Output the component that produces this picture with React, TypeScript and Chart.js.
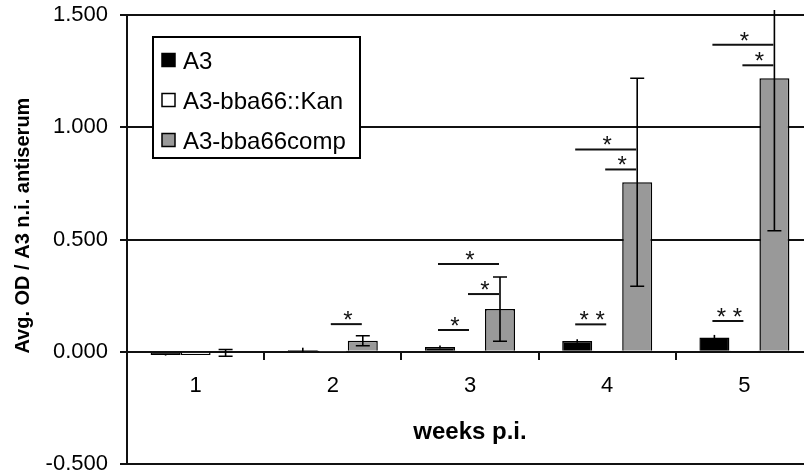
import React, { useEffect, useRef } from 'react';
import { Chart, registerables } from 'chart.js';

Chart.register(...registerables);

// ---- data ----
const weeks = ['1', '2', '3', '4', '5'];
const seriesNames = ['A3', 'A3-bba66::Kan', 'A3-bba66comp'];
const a3Values = [-0.014, 0.008, 0.021, 0.048, 0.063];
const kanValues = [-0.014, 0.001, 0.002, 0.002, 0.002];
const compValues = [-0.005, 0.049, 0.19, 0.755, 1.218];
const a3Errors = [0.003, 0.01, 0.007, 0.008, 0.012];
const kanErrors = [0, 0, 0, 0, 0];
const compErrors = [0.015, 0.022, 0.143, 0.463, 0.679];
const yTicks = [-0.5, 0, 0.5, 1.0, 1.5];

// significance brackets: week index, from series, to series, level, label
const sigWeek = [1, 2, 2, 2, 3, 3, 3, 4, 4, 4];
const sigFrom = [1, 0, 1, 0, 0, 1, 0, 0, 1, 0];
const sigTo = [2, 2, 2, 1, 2, 2, 1, 2, 2, 1];
const sigLevel = [0.123, 0.391, 0.257, 0.097, 0.901, 0.812, 0.122, 1.368, 1.276, 0.137];
const sigLabel = ['*', '*', '*', '*', '*', '*', '* *', '*', '*', '* *'];

const FONT = "'Liberation Sans', Arial, sans-serif";
const fills = ['#000000', '#ffffff', '#999999'];

const extras = {
  id: 'extras',
  afterDatasetsDraw(chart: any) {
    const ctx = chart.ctx;
    const ys = chart.scales.y;
    const area = chart.chartArea;
    const vals = [a3Values, kanValues, compValues];
    const errs = [a3Errors, kanErrors, compErrors];
    const caps = [0, 7, 7];

    // error bars
    ctx.save();
    ctx.beginPath();
    ctx.rect(0, area.top - 5, chart.width, area.bottom - area.top + 5);
    ctx.clip();
    ctx.strokeStyle = '#000';
    ctx.lineWidth = 1.6;
    for (let s = 0; s < 3; s++) {
      const meta = chart.getDatasetMeta(s);
      for (let j = 0; j < vals[s].length; j++) {
        const e = errs[s][j];
        if (!e) continue;
        const x = meta.data[j].x;
        const yt = ys.getPixelForValue(vals[s][j] + e);
        const yb = ys.getPixelForValue(vals[s][j] - e);
        ctx.beginPath();
        ctx.moveTo(x, yt);
        ctx.lineTo(x, yb);
        if (caps[s]) {
          ctx.moveTo(x - caps[s], yt);
          ctx.lineTo(x + caps[s], yt);
          ctx.moveTo(x - caps[s], yb);
          ctx.lineTo(x + caps[s], yb);
        }
        ctx.stroke();
      }
    }
    ctx.restore();

    // significance brackets
    ctx.save();
    ctx.strokeStyle = '#111';
    ctx.fillStyle = '#111';
    ctx.lineWidth = 2;
    ctx.font = `24px ${FONT}`;
    ctx.textAlign = 'center';
    ctx.textBaseline = 'alphabetic';
    for (let k = 0; k < sigWeek.length; k++) {
      const x1 = chart.getDatasetMeta(sigFrom[k]).data[sigWeek[k]].x;
      const x2 = chart.getDatasetMeta(sigTo[k]).data[sigWeek[k]].x;
      const yy = ys.getPixelForValue(sigLevel[k]);
      ctx.beginPath();
      ctx.moveTo(x1 - 2, yy);
      ctx.lineTo(x2 - 1, yy);
      ctx.stroke();
      ctx.fillText(sigLabel[k], (x1 + x2) / 2, yy + 4);
    }
    ctx.restore();

    // legend
    ctx.save();
    const lx = 153, ly = 37, lw = 207, lh = 121;
    ctx.fillStyle = '#fff';
    ctx.fillRect(lx, ly, lw, lh);
    ctx.strokeStyle = '#000';
    ctx.lineWidth = 2;
    ctx.strokeRect(lx, ly, lw, lh);
    ctx.font = `24px ${FONT}`;
    ctx.textAlign = 'left';
    ctx.textBaseline = 'alphabetic';
    for (let i = 0; i < seriesNames.length; i++) {
      const cy = 60 + i * 40;
      ctx.fillStyle = fills[i];
      ctx.fillRect(162, cy - 6.5, 13, 13);
      ctx.lineWidth = 1.5;
      ctx.strokeStyle = '#000';
      ctx.strokeRect(162, cy - 6.5, 13, 13);
      ctx.fillStyle = '#000';
      ctx.fillText(seriesNames[i], 183, cy + 8.5);
    }
    ctx.restore();
  },
};

export default function App() {
  const ref = useRef<HTMLCanvasElement | null>(null);

  useEffect(() => {
    document.body.style.overflow = 'hidden';
    const canvas = ref.current;
    if (!canvas) return;
    const tickFont = { family: FONT, size: 22, lineHeight: 1 };
    const chart = new Chart(canvas, {
      type: 'bar',
      data: {
        labels: weeks,
        datasets: [
          { label: seriesNames[0], data: a3Values, backgroundColor: fills[0], borderColor: '#000', borderWidth: 1.5 },
          { label: seriesNames[1], data: kanValues, backgroundColor: fills[1], borderColor: '#000', borderWidth: 1.5 },
          { label: seriesNames[2], data: compValues, backgroundColor: fills[2], borderColor: '#000', borderWidth: 1.5 },
        ],
      },
      options: {
        responsive: false,
        animation: false,
        layout: { padding: { top: 15, bottom: 12, left: 0, right: 1 } },
        datasets: { bar: { categoryPercentage: 0.656, barPercentage: 1 } },
        plugins: { legend: { display: false }, tooltip: { enabled: false } },
        scales: {
          x: {
            position: { y: 0 },
            offset: true,
            grid: { display: true, drawOnChartArea: false, offset: true, tickLength: 7, color: '#111', lineWidth: 2 },
            border: { display: true, color: '#111', width: 2 },
            ticks: { padding: 16, font: tickFont, color: '#000' },
            title: {
              display: true,
              text: 'weeks p.i.',
              color: '#000',
              font: { family: FONT, size: 24, weight: 'bold', lineHeight: 1 },
              padding: { top: 8, bottom: 0 },
            },
          },
          y: {
            min: -0.5,
            max: 1.5,
            afterFit(scale: any) {
              scale.width = 127;
              scale.paddingTop = 0;
              scale.paddingBottom = 0;
            },
            afterBuildTicks(scale: any) {
              scale.ticks = yTicks.map((v) => ({ value: v }));
            },
            ticks: {
              padding: 12,
              font: tickFont,
              color: '#000',
              callback: (v: any) => Number(v).toFixed(3),
            },
            grid: { color: '#111', lineWidth: 2, tickLength: 7 },
            border: { display: true, color: '#111', width: 2 },
            title: {
              display: true,
              text: '     Avg. OD / A3 n.i. antiserum',
              color: '#000',
              font: { family: FONT, size: 20, weight: 'bold', lineHeight: 1 },
              padding: { top: 13, bottom: 0 },
            },
          },
        },
      },
      plugins: [extras],
    });
    return () => chart.destroy();
  }, []);

  return (
    <div style={{ position: 'fixed', left: 0, top: 0, width: 814, height: 476, background: '#fff' }}>
      <canvas ref={ref} width={814} height={476} />
    </div>
  );
}
